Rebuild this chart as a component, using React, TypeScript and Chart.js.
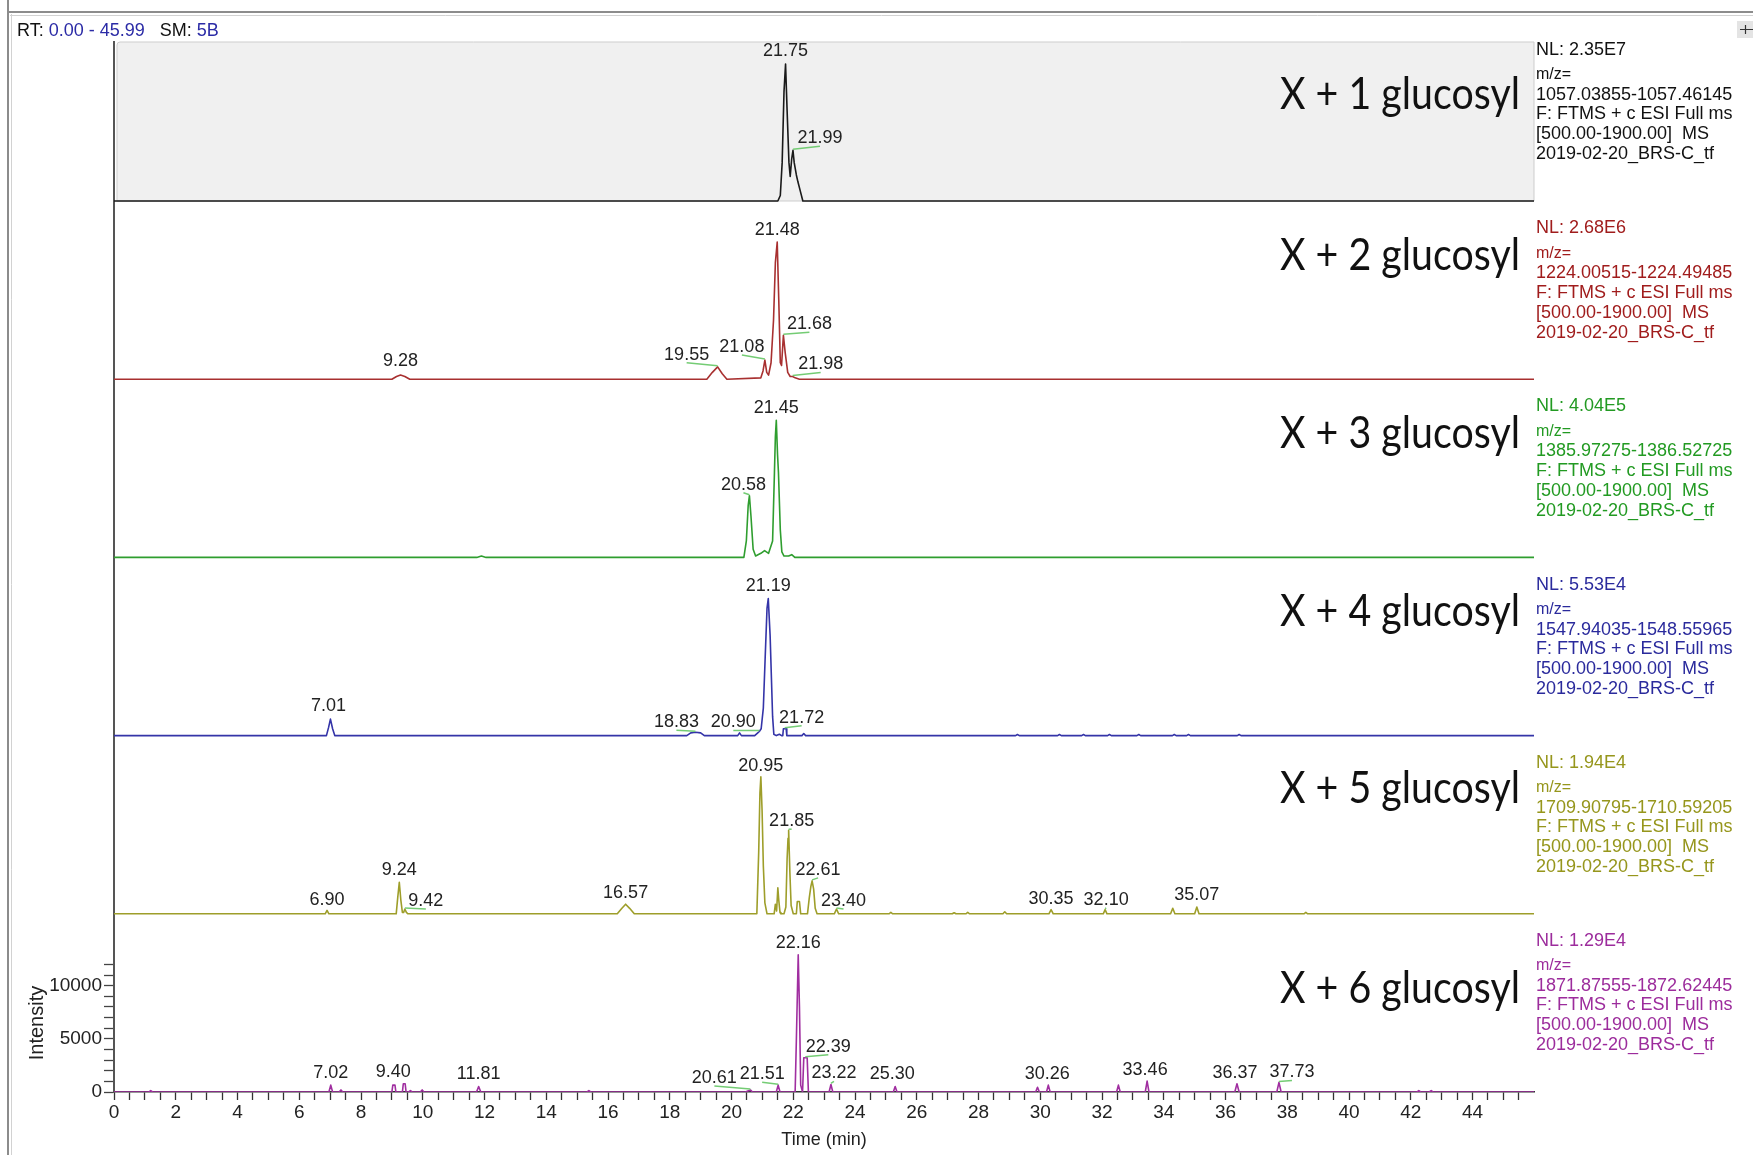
import React, { useEffect, useRef } from 'react';
import { Chart, registerables } from 'chart.js';

Chart.register(...registerables);

// ---------------- data ----------------
const panelNames = ['X + 1 glucosyl', 'X + 2 glucosyl', 'X + 3 glucosyl', 'X + 4 glucosyl', 'X + 5 glucosyl', 'X + 6 glucosyl'];
const nlLabels = ['NL: 2.35E7', 'NL: 2.68E6', 'NL: 4.04E5', 'NL: 5.53E4', 'NL: 1.94E4', 'NL: 1.29E4'];
const nlValues = [2.35e7, 2.68e6, 4.04e5, 5.53e4, 1.94e4, 1.29e4];
const mzRanges = [
  '1057.03855-1057.46145',
  '1224.00515-1224.49485',
  '1385.97275-1386.52725',
  '1547.94035-1548.55965',
  '1709.90795-1710.59205',
  '1871.87555-1872.62445',
];
const scanFilter = 'F: FTMS + c ESI Full ms';
const massRange = '[500.00-1900.00]  MS';
const fileName = '2019-02-20_BRS-C_tf';

const lineColors = ['#1a1a1a', '#a83030', '#2f9e2f', '#3434a8', '#9e9e2a', '#a02ea0'];
const textColors = ['#111111', '#a01c1c', '#229a22', '#2a2a9c', '#96961c', '#9c2c9c'];

// [time (min), relative abundance (% of NL)]
const trace1: [number, number][] = [
  [0, 0], [21.5, 0], [21.58, 4], [21.64, 28], [21.7, 80], [21.75, 100], [21.8, 66], [21.86, 28], [21.9, 18],
  [21.95, 31], [21.99, 37], [22.03, 28], [22.1, 19], [22.15, 14], [22.23, 7], [22.31, 0], [45.99, 0],
];
const trace2: [number, number][] = [
  [0, 0], [9.0, 0], [9.15, 2], [9.28, 3], [9.42, 2], [9.58, 0],
  [19.2, 0], [19.38, 5], [19.55, 9], [19.7, 4], [19.85, 0],
  [20.95, 1], [21.02, 6], [21.08, 14], [21.14, 5], [21.2, 3], [21.28, 12], [21.36, 43], [21.42, 85], [21.48, 100],
  [21.53, 58], [21.58, 12], [21.62, 10], [21.68, 32], [21.74, 19], [21.82, 5], [21.9, 2], [21.98, 2], [22.06, 1], [22.2, 0],
  [45.99, 0],
];
const trace3: [number, number][] = [
  [0, 0], [11.75, 0], [11.9, 1], [12.05, 0],
  [20.4, 0], [20.48, 12], [20.54, 38], [20.58, 45], [20.63, 30], [20.7, 6], [20.78, 1], [20.95, 3], [21.07, 5], [21.2, 3],
  [21.33, 12], [21.39, 62], [21.42, 88], [21.45, 100], [21.49, 75], [21.52, 62], [21.58, 20], [21.63, 4], [21.7, 1],
  [21.85, 1], [21.95, 2], [22.05, 0], [45.99, 0],
];
const trace4: [number, number][] = [
  [0, 0], [6.88, 0], [6.95, 6], [7.01, 12], [7.08, 5], [7.15, 0],
  [18.55, 0], [18.68, 2], [18.83, 2.5], [19.0, 2], [19.12, 0],
  [20.2, 0], [20.26, 2], [20.32, 0],
  [20.75, 0], [20.85, 2], [20.9, 3], [20.96, 5], [21.03, 20], [21.09, 57], [21.15, 93], [21.19, 100], [21.25, 73],
  [21.33, 14], [21.37, 1], [21.45, 0], [21.55, 1], [21.62, 0],
  [21.66, 0], [21.68, 5], [21.72, 5], [21.77, 5], [21.79, 0],
  [22.28, 0], [22.34, 1.5], [22.4, 0],
  [29.2, 0], [29.26, 0.8], [29.32, 0], [30.56, 0], [30.62, 0.8], [30.68, 0], [31.34, 0], [31.4, 0.8], [31.46, 0],
  [32.18, 0], [32.24, 0.8], [32.3, 0], [33.13, 0], [33.19, 0.8], [33.25, 0], [34.28, 0], [34.34, 0.8], [34.4, 0],
  [34.74, 0], [34.8, 0.8], [34.86, 0], [36.38, 0], [36.44, 0.8], [36.5, 0],
  [45.99, 0],
];
const trace5: [number, number][] = [
  [0, 0], [6.84, 0], [6.9, 2.5], [6.96, 0],
  [9.14, 0], [9.19, 12], [9.24, 23], [9.29, 10], [9.34, 1], [9.38, 1], [9.42, 3.5], [9.47, 1], [9.52, 0],
  [16.3, 0], [16.45, 4], [16.57, 7], [16.7, 4], [16.85, 0],
  [20.82, 0], [20.88, 45], [20.92, 88], [20.95, 100], [20.99, 75], [21.03, 35], [21.08, 8], [21.15, 0],
  [21.38, 0], [21.42, 7], [21.46, 2], [21.5, 19], [21.53, 10], [21.57, 1], [21.6, 0],
  [21.7, 0], [21.76, 5], [21.8, 40], [21.83, 55], [21.85, 61], [21.89, 30], [21.93, 6], [22.0, 0],
  [22.1, 0], [22.13, 9], [22.2, 9], [22.24, 0],
  [22.46, 0], [22.52, 12], [22.57, 20], [22.61, 24], [22.66, 18], [22.71, 4], [22.77, 0],
  [23.33, 0], [23.4, 3.5], [23.47, 0],
  [25.1, 0], [25.16, 1], [25.22, 0], [27.15, 0], [27.21, 0.8], [27.27, 0], [27.59, 0], [27.65, 1], [27.71, 0],
  [28.79, 0], [28.85, 1.5], [28.91, 0], [30.28, 0], [30.35, 3], [30.42, 0], [32.04, 0], [32.1, 3], [32.16, 0],
  [34.22, 0], [34.29, 4], [34.36, 0], [35.0, 0], [35.07, 5], [35.14, 0], [38.54, 0], [38.6, 1], [38.66, 0],
  [45.99, 0],
];
const trace6: [number, number][] = [
  [0, 0], [1.13, 0], [1.19, 1], [1.25, 0], [6.96, 0], [7.02, 5], [7.08, 0], [7.29, 0], [7.35, 1.5], [7.41, 0],
  [9.0, 0], [9.03, 5], [9.1, 5], [9.13, 0], [9.34, 0], [9.37, 6], [9.4, 6], [9.43, 6], [9.46, 0],
  [9.54, 0], [9.6, 1], [9.66, 0], [9.92, 0], [9.98, 1.5], [10.04, 0], [11.74, 0], [11.81, 4], [11.88, 0],
  [15.32, 0], [15.38, 1], [15.44, 0], [20.45, 0], [20.55, 1], [20.61, 1.5], [20.68, 0],
  [21.45, 0], [21.51, 5], [21.57, 0],
  [22.06, 0], [22.1, 38], [22.16, 100], [22.2, 62], [22.24, 5], [22.3, 0], [22.34, 25], [22.39, 25], [22.45, 25], [22.49, 0],
  [23.16, 0], [23.22, 5.5], [23.28, 0], [25.24, 0], [25.3, 4], [25.36, 0], [29.85, 0], [29.91, 3.5], [29.97, 0],
  [30.2, 0], [30.26, 5], [30.32, 0], [32.47, 0], [32.53, 5], [32.59, 0], [33.4, 0], [33.46, 8], [33.52, 0],
  [36.3, 0], [36.37, 6], [36.44, 0], [37.66, 0], [37.73, 7], [37.8, 0], [42.2, 0], [42.26, 1], [42.32, 0],
  [42.6, 0], [42.66, 1], [42.72, 0], [45.99, 0],
];
const traces = [trace1, trace2, trace3, trace4, trace5, trace6];

// peak annotations: [panel, retention time, dx px, dy px, leader line]
const peakLabels: [number, number, number, number, number][] = [
  [0, 21.75, 0, -13, 0], [0, 21.99, 27, -12, 1],
  [1, 21.48, 0, -12, 0], [1, 21.68, 26, -11, 1], [1, 21.98, 28, -12, 1], [1, 21.08, -23, -13, 1], [1, 19.55, -31, -12, 1], [1, 9.28, 0, -14, 0],
  [2, 21.45, 0, -12, 0], [2, 20.58, -6, -11, 1],
  [3, 21.19, 0, -12, 0], [3, 7.01, -2, -13, 0], [3, 18.83, -19, -10, 1], [3, 20.9, -26, -9, 1], [3, 21.72, 17, -11, 1],
  [4, 20.95, 0, -11, 0], [4, 21.85, 3, -9, 1], [4, 22.61, 6, -11, 1], [4, 9.24, 0, -12, 0], [4, 9.42, 21, -8, 1],
  [4, 6.9, 0, -10, 0], [4, 16.57, 0, -11, 0], [4, 23.4, 7, -8, 1], [4, 30.35, 0, -11, 0], [4, 32.1, 1, -10, 1], [4, 35.07, 0, -12, 0],
  [5, 22.16, 0, -12, 0], [5, 22.39, 23, -11, 1], [5, 21.51, -16, -11, 1], [5, 20.61, -36, -12, 1], [5, 23.22, 3, -11, 1],
  [5, 7.02, 0, -12, 0], [5, 9.4, -11, -12, 0], [5, 11.81, 0, -12, 0], [5, 25.3, -3, -12, 0], [5, 30.26, -1, -11, 0],
  [5, 33.46, -2, -11, 0], [5, 36.37, -2, -11, 0], [5, 37.73, 13, -10, 1],
];

const xTickLabels = [0, 2, 4, 6, 8, 10, 12, 14, 16, 18, 20, 22, 24, 26, 28, 30, 32, 34, 36, 38, 40, 42, 44];
const yTickLabels = [0, 5000, 10000];
const intensityTicks = [0, 1000, 2000, 3000, 4000, 5000, 6000, 7000, 8000, 9000, 10000, 11000, 12000];

// ---------------- layout constants ----------------
const PANEL_UNITS = 130;
const Y_MAX = 766;
const FONT = '"Liberation Sans", Arial, sans-serif';
const glucOffsets = [-106, -123, -124, -124, -125, -103];

const App: React.FC = () => {
  const canvasRef = useRef<HTMLCanvasElement | null>(null);

  useEffect(() => {
    const canvas = canvasRef.current;
    if (!canvas) return;

    const baseOf = (i: number) => (5 - i) * PANEL_UNITS;

    const datasets = traces.map((tr, i) => ({
      label: panelNames[i],
      data: tr.map(([t, v]) => ({ x: t, y: baseOf(i) + v })),
      borderColor: lineColors[i],
      backgroundColor: lineColors[i],
      borderWidth: 1.6,
      borderJoinStyle: 'round' as const,
      pointRadius: 0,
      tension: 0,
      fill: false,
    }));

    const decor = {
      id: 'decor',
      beforeDatasetsDraw(chart: any) {
        const { ctx, chartArea } = chart;
        const y = chart.scales.y;
        const x0 = chartArea.left + 3;
        const y0 = chartArea.top;
        const x1 = chartArea.right;
        const y1 = y.getPixelForValue(baseOf(0));
        ctx.save();
        ctx.fillStyle = '#f0f0f0';
        ctx.strokeStyle = '#cdcdcd';
        ctx.lineWidth = 1;
        ctx.beginPath();
        ctx.moveTo(x0, y1);
        ctx.lineTo(x0, y0 + 3);
        ctx.quadraticCurveTo(x0, y0, x0 + 3, y0);
        ctx.lineTo(x1, y0);
        ctx.lineTo(x1, y1);
        ctx.closePath();
        ctx.fill();
        ctx.stroke();
        ctx.restore();
      },
      afterDatasetsDraw(chart: any) {
        const { ctx } = chart;
        const xs = chart.scales.x;
        const ys = chart.scales.y;
        ctx.save();
        ctx.font = `18px ${FONT}`;
        ctx.textAlign = 'center';
        ctx.textBaseline = 'middle';
        peakLabels.forEach(([p, t, dx, dy, lead]) => {
          const tr = traces[p];
          let best = tr[0];
          tr.forEach((pt) => {
            if (Math.abs(pt[0] - t) < Math.abs(best[0] - t)) best = pt;
          });
          const ax = xs.getPixelForValue(best[0]);
          const ay = ys.getPixelForValue(baseOf(p) + best[1]);
          const cx = ax + dx;
          const cy = ay + dy;
          if (lead) {
            ctx.strokeStyle = '#74cc74';
            ctx.lineWidth = 1.5;
            ctx.beginPath();
            ctx.moveTo(ax, ay - 1);
            ctx.lineTo(cx, cy + 8);
            ctx.stroke();
          }
          ctx.fillStyle = '#222';
          ctx.fillText(t.toFixed(2), cx, cy);
        });
        ctx.restore();
      },
      afterDraw(chart: any) {
        const { ctx, chartArea } = chart;
        const ys = chart.scales.y;
        ctx.save();
        // window frame
        ctx.strokeStyle = '#8c8c8c';
        ctx.lineWidth = 2;
        ctx.beginPath();
        ctx.moveTo(8, 0);
        ctx.lineTo(8, 1155);
        ctx.moveTo(8, 12);
        ctx.lineTo(1753, 12);
        ctx.stroke();
        ctx.strokeStyle = '#d2d2d2';
        ctx.lineWidth = 1;
        ctx.beginPath();
        ctx.moveTo(11.5, 14);
        ctx.lineTo(11.5, 1155);
        ctx.moveTo(10, 15.5);
        ctx.lineTo(1753, 15.5);
        ctx.stroke();
        // pin icon
        ctx.fillStyle = '#e4e4e4';
        ctx.fillRect(1737, 21, 16, 17);
        ctx.strokeStyle = '#333';
        ctx.lineWidth = 1.2;
        ctx.beginPath();
        ctx.moveTo(1740, 29.5);
        ctx.lineTo(1753, 29.5);
        ctx.moveTo(1745.5, 25);
        ctx.lineTo(1745.5, 34);
        ctx.stroke();

        // header
        ctx.font = `18px ${FONT}`;
        ctx.textBaseline = 'middle';
        ctx.textAlign = 'left';
        let hx = 17;
        const header: [string, string][] = [['RT: ', '#111'], ['0.00 - 45.99', '#2b2ba6'], ['   SM: ', '#111'], ['5B', '#2b2ba6']];
        header.forEach(([s, c]) => {
          ctx.fillStyle = c;
          ctx.fillText(s, hx, 31);
          hx += ctx.measureText(s).width;
        });

        // Intensity label
        ctx.save();
        ctx.translate(37, 1023);
        ctx.rotate(-Math.PI / 2);
        ctx.textAlign = 'center';
        ctx.fillStyle = '#222';
        ctx.font = `20px ${FONT}`;
        ctx.fillText('Intensity', 0, 0);
        ctx.restore();

        // per-panel texts
        for (let i = 0; i < 6; i++) {
          const by = ys.getPixelForValue(baseOf(i));
          // big panel name
          ctx.save();
          ctx.font = `44px Lato, "Open Sans", sans-serif`;
          ctx.fillStyle = '#111';
          ctx.textAlign = 'right';
          ctx.textBaseline = 'middle';
          const w = ctx.measureText(panelNames[i]).width;
          const sx = 240 / w;
          ctx.translate(1520, by + glucOffsets[i]);
          ctx.scale(sx, 1);
          ctx.fillText(panelNames[i], 0, 0);
          ctx.restore();

          // info block
          const tx = chartArea.right + 2;
          ctx.fillStyle = textColors[i];
          ctx.textAlign = 'left';
          ctx.textBaseline = 'middle';
          ctx.font = `18px ${FONT}`;
          ctx.fillText(nlLabels[i], tx, by - 151);
          ctx.font = `16px ${FONT}`;
          ctx.fillText('m/z=', tx, by - 126);
          ctx.font = `18px ${FONT}`;
          ctx.fillText(mzRanges[i], tx, by - 106);
          ctx.fillText(scanFilter, tx, by - 86.5);
          ctx.fillText(massRange, tx, by - 66.5);
          ctx.fillText(fileName, tx, by - 46.5);
        }
        ctx.restore();
      },
    };

    const chart = new Chart(canvas, {
      type: 'line',
      data: { datasets },
      options: {
        animation: false,
        responsive: false,
        devicePixelRatio: 1,
        parsing: true,
        layout: { padding: { left: 0, right: 219, top: 42, bottom: 0 } },
        plugins: {
          legend: { display: false },
          tooltip: { enabled: false },
          title: { display: false },
        },
        scales: {
          x: {
            type: 'linear',
            position: 'bottom',
            min: 0,
            max: 45.99,
            afterFit: (s: any) => {
              s.height = 63;
            },
            ticks: {
              stepSize: 0.5,
              autoSkip: false,
              includeBounds: false,
              maxRotation: 0,
              padding: 1,
              color: '#222',
              font: { family: FONT, size: 19 },
              callback: (v: any) => (xTickLabels.includes(Number(v)) ? String(v) : ''),
            },
            grid: { drawOnChartArea: false, drawTicks: true, tickLength: 8, tickColor: '#333', tickWidth: 1.3 },
            border: { display: true, color: '#333', width: 1.5 },
            title: {
              display: true,
              text: 'Time (min)',
              color: '#222',
              font: { family: FONT, size: 18 },
              padding: { top: 0, bottom: 4 },
            },
          },
          y: {
            type: 'linear',
            position: 'left',
            min: 0,
            max: Y_MAX,
            afterFit: (s: any) => {
              s.width = 114;
            },
            afterBuildTicks: (s: any) => {
              s.ticks = intensityTicks.map((v) => ({ value: (v / nlValues[5]) * 100 }));
            },
            ticks: {
              autoSkip: false,
              padding: 2,
              color: '#222',
              font: { family: FONT, size: 19 },
              callback: (v: any) => {
                const I = Math.round((Number(v) * nlValues[5]) / 100);
                return yTickLabels.includes(I) ? String(I) : '';
              },
            },
            grid: { drawOnChartArea: false, drawTicks: true, tickLength: 10, tickColor: '#444', tickWidth: 1.3 },
            border: { display: true, color: '#555', width: 2 },
          },
        },
      },
      plugins: [decor],
    } as any);

    return () => chart.destroy();
  }, []);

  return (
    <div style={{ position: 'fixed', left: 0, top: 0, width: 1753, height: 1155, background: '#ffffff' }}>
      <canvas ref={canvasRef} width={1753} height={1155} style={{ display: 'block', width: 1753, height: 1155 }} />
    </div>
  );
};

export default App;
